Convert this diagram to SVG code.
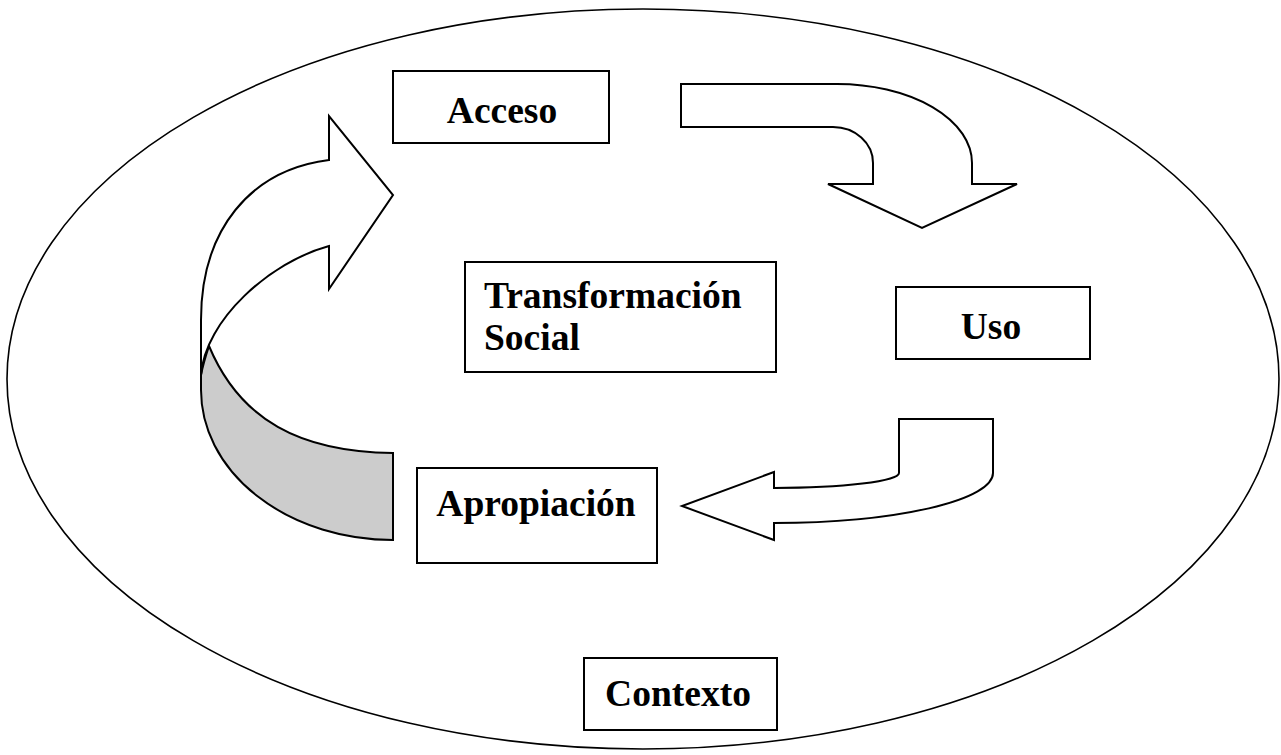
<svg xmlns="http://www.w3.org/2000/svg" width="1281" height="755" viewBox="0 0 1281 755">
<style>
.box{fill:#fff;stroke:#000;stroke-width:2}
.arr{fill:#fff;stroke:#000;stroke-width:2;stroke-linejoin:miter}
.shade{fill:#cccccc;stroke:#000;stroke-width:2}
.lbl{font-family:"Liberation Serif","Times New Roman",serif;font-weight:bold;font-size:37.5px;fill:#000}
</style>
<rect width="1281" height="755" fill="#fff"/>
<g id="contexto-ellipse">
<ellipse cx="643" cy="379" rx="636" ry="370" fill="#fff" stroke="#000" stroke-width="1.6"/>
</g>
<g id="connectors">
<path class="shade" d="M209,346 C240,420 300,452 393,453 L393,540 A192,150 0 0 1 201,390 L201,375 C203,365 206,355 209,346 Z"/>
<path class="arr" d="M201,375 L201,320 C201,230 250,170 329,160 L329,116 L393,195 L329,289 L329,246 C270,262 205,320 201,375 Z"/>
<path class="arr" d="M681,84 L837,84 A135,79 0 0 1 972,163 L972,184 L1017,184 L922,228 L828,184 L873,184 L873,163 A40,36 0 0 0 833,127 L681,127 Z"/>
<path class="arr" d="M899,419 L993,419 L993,473 A219,50 0 0 1 774,523 L774,540 L682,506 L774,472 L774,488 A125,15 0 0 0 899,473 Z"/>
</g>
<g id="acceso">
<rect class="box" x="393" y="71" width="216" height="72"/>
<text class="lbl" x="502" y="123" text-anchor="middle">Acceso</text>
</g>
<g id="transformacion">
<rect class="box" x="465" y="262" width="311" height="110"/>
<text class="lbl" x="484" y="308">Transformación</text>
<text class="lbl" x="484" y="350">Social</text>
</g>
<g id="uso">
<rect class="box" x="896" y="287" width="194" height="72"/>
<text class="lbl" x="991" y="339" text-anchor="middle">Uso</text>
</g>
<g id="apropiacion">
<rect class="box" x="417" y="468" width="240" height="95"/>
<text class="lbl" x="536" y="516" text-anchor="middle">Apropiación</text>
</g>
<g id="contexto">
<rect class="box" x="584" y="658" width="193" height="72"/>
<text class="lbl" x="678" y="706" text-anchor="middle">Contexto</text>
</g>
</svg>
